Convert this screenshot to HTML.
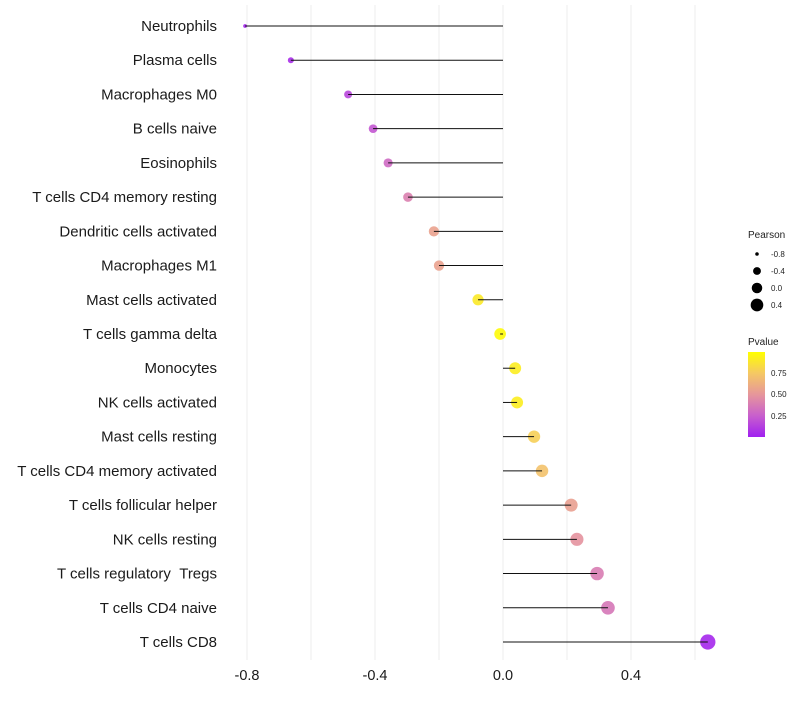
<!DOCTYPE html>
<html><head><meta charset="utf-8"><style>
body{margin:0;background:#fff;font-family:"Liberation Sans",sans-serif}
</style></head><body>
<svg id="chart" width="800" height="700" xmlns="http://www.w3.org/2000/svg"></svg>
<script>
const categories=["Neutrophils","Plasma cells","Macrophages M0","B cells naive","Eosinophils","T cells CD4 memory resting","Dendritic cells activated","Macrophages M1","Mast cells activated","T cells gamma delta","Monocytes","NK cells activated","Mast cells resting","T cells CD4 memory activated","T cells follicular helper","NK cells resting","T cells regulatory \u00a0Tregs","T cells CD4 naive","T cells CD8"];
const pearson=[-0.806,-0.663,-0.484,-0.406,-0.359,-0.297,-0.216,-0.2,-0.078,-0.009,0.038,0.044,0.097,0.122,0.213,0.231,0.294,0.328,0.64];
const pvalue=[0.02,0.05,0.15,0.22,0.3,0.4,0.56,0.56,0.9,0.98,0.92,0.92,0.78,0.72,0.55,0.48,0.38,0.36,0.03];
const xTicks=[-0.8,-0.4,0.0,0.4];
const xTickLabels=["-0.8","-0.4","0.0","0.4"];
const NS="http://www.w3.org/2000/svg";
const svg=document.getElementById("chart");
const xs=v=>503+v*320;
const ys=i=>26+i*(642-26)/18;
const rs=v=>Math.sqrt(Math.max(0.5,3.5+38*(v+0.81)));
const stops=[[0,[160,32,240]],[0.25,[200,95,205]],[0.5,[230,150,155]],[0.75,[245,200,100]],[1,[255,255,0]]];
function col(p){
  for(let k=0;k<stops.length-1;k++){
    const [o1,c1]=stops[k],[o2,c2]=stops[k+1];
    if(p<=o2||k==stops.length-2){const t=Math.min(1,Math.max(0,(p-o1)/(o2-o1)));return "rgb("+c1.map((v,j)=>Math.round(v+(c2[j]-v)*t)).join(",")+")";}
  }
}
function mk(tag,at,txt){const el=document.createElementNS(NS,tag);for(const k in at)el.setAttribute(k,at[k]);if(txt!=null)el.textContent=txt;svg.appendChild(el);return el;}
[-0.8,-0.6,-0.4,-0.2,0,0.2,0.4,0.6].forEach(v=>{
  const g=mk("line",{x1:xs(v),x2:xs(v),y1:5,y2:660,stroke:"#ececec","stroke-width":1});
  
  
});
xTicks.forEach((v,i)=>{
  const t=mk("text",{x:xs(v),y:680,"text-anchor":"middle","font-size":14.5,fill:"#1a1a1a"},xTickLabels[i]);
  
  
});
categories.forEach((c,i)=>{
  const y=ys(i);
  const t=mk("text",{x:217,y:y+5,"text-anchor":"end","font-size":15,fill:"#1a1a1a"},c);
  
  
  const p=mk("circle",{cx:xs(pearson[i]),cy:y,r:rs(pearson[i]),fill:col(pvalue[i]),"fill-opacity":0.9});
  
  
  const l=mk("line",{x1:xs(0),x2:xs(pearson[i]),y1:y,y2:y,stroke:"#111","stroke-width":1});
  
  
});
const lt=mk("text",{x:748,y:238,"font-size":10,fill:"#222"},"Pearson");


[[-0.8,254],[-0.4,271],[0.0,288],[0.4,305]].forEach(([v,y],i)=>{
  const c=mk("circle",{cx:757,cy:y,r:rs(v)*0.9,fill:"#000"});
  
  
  const t=mk("text",{x:771,y:y+3,"font-size":8,fill:"#222"},xTickLabels[i]);
  
  
});
const ct=mk("text",{x:748,y:345,"font-size":10,fill:"#222"},"Pvalue");


const defs=mk("defs",{});
const lg=document.createElementNS(NS,"linearGradient");
lg.setAttribute("id","pg");lg.setAttribute("x1","0");lg.setAttribute("y1","1");lg.setAttribute("x2","0");lg.setAttribute("y2","0");
[0,0.25,0.5,0.75,1].forEach(o=>{const s=document.createElementNS(NS,"stop");s.setAttribute("offset",o);s.setAttribute("stop-color",col(o));lg.appendChild(s);});
defs.appendChild(lg);
const cb=mk("rect",{x:748,y:352,width:17,height:85,fill:"url(#pg)"});


[[0.75,373],[0.5,394],[0.25,416]].forEach(([v,y])=>{
  const t=mk("text",{x:771,y:y+3,"font-size":8,fill:"#222"},v.toFixed(2));
  
  
});
</script>
</body></html>
